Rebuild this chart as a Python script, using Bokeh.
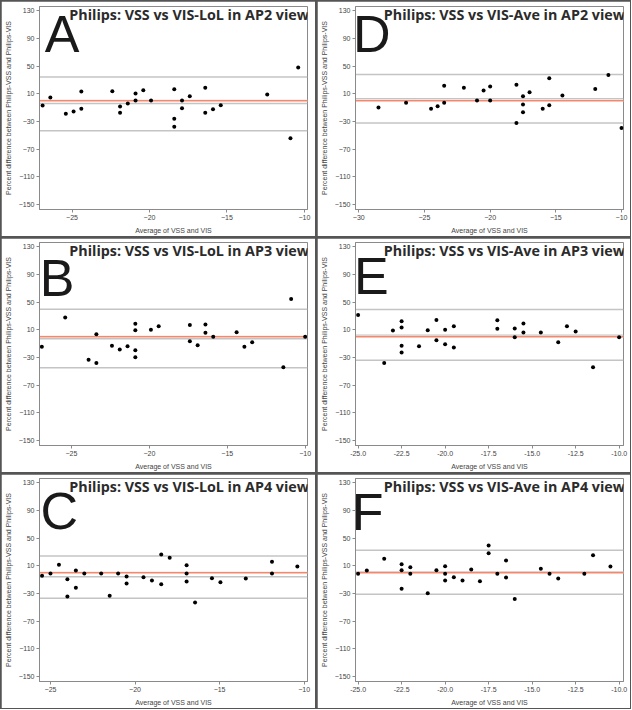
from bokeh.plotting import figure
from bokeh.layouts import gridplot
from bokeh.models import Span, Label, FixedTicker, PrintfTickFormatter, Range1d
from bokeh.embed import file_html
from bokeh.resources import INLINE

# ---------------- data ----------------
y_ticks = [130, 90, 50, 10, -30, -70, -110, -150]
x_ticks_lol = [-25, -20, -15, -10]
x_ticks_d = [-30, -25, -20, -15, -10]
x_ticks_ave = [-25.0, -22.5, -20.0, -17.5, -15.0, -12.5, -10.0]

titles = {
    "A": "Philips: VSS vs VIS-LoL in AP2 view",
    "D": "Philips: VSS vs VIS-Ave in AP2 view",
    "B": "Philips: VSS vs VIS-LoL in AP3 view",
    "E": "Philips: VSS vs VIS-Ave in AP3 view",
    "C": "Philips: VSS vs VIS-LoL in AP4 view",
    "F": "Philips: VSS vs VIS-Ave in AP4 view",
}

A_x = [-26.9, -26.4, -25.4, -24.9, -24.4, -24.4, -22.4, -21.9, -21.9, -21.4, -20.9, -20.9, -20.4, -19.9,
       -18.4, -18.4, -18.4, -17.9, -17.9, -17.4, -16.4, -16.4, -15.9, -15.4, -12.4, -10.9, -10.4]
A_y = [-6.9, 4.6, -18.9, -15.5, 13.3, -11.7, 13.8, -8.3, -17.5, -4.0, 10.4, 0.3, 15.2, 0.3,
       16.6, -26.1, -37.6, 0.3, -10.7, 6.6, 18.6, -17.5, -12.2, -6.4, 8.9, -54.0, 47.9]

D_x = [-28.5, -26.4, -24.5, -24.0, -23.5, -23.5, -22.0, -21.0, -20.5, -20.0, -20.0, -18.0, -18.0,
       -17.5, -17.5, -17.5, -17.0, -16.0, -15.5, -15.5, -14.5, -12.0, -11.0, -10.0]
D_y = [-9.8, -3.0, -11.7, -7.8, 21.5, -3.0, 18.6, 0.3, 14.7, 20.5, 0.3, 22.9, -32.3,
       6.6, -5.4, -16.5, 12.3, -11.7, 32.5, -6.4, 7.5, 17.1, 37.3, -39.5]

B_x = [-26.9, -25.4, -23.9, -23.4, -23.4, -22.4, -21.9, -21.4, -20.9, -20.9, -20.9, -20.9, -19.9,
       -19.4, -17.4, -17.4, -16.9, -16.4, -16.4, -15.9, -14.4, -13.9, -13.4, -11.4, -10.9, -10.0]
B_y = [-14.6, 27.7, -33.3, 3.7, -38.1, -13.1, -18.4, -13.6, 18.6, 9.4, -19.4, -29.5, 9.9,
       15.2, 17.1, -6.4, -12.2, 17.6, 5.6, -0.2, 6.6, -14.6, -7.8, -43.9, 54.6, -0.2]

E_x = [-25.0, -23.5, -23.0, -22.5, -22.5, -22.5, -22.5, -21.5, -21.0, -20.5, -20.5, -20.0, -20.0,
       -19.5, -19.5, -17.0, -17.0, -16.0, -16.0, -15.5, -15.5, -14.5, -13.5, -13.0, -12.5, -11.5, -10.0]
E_y = [31.5, -38.1, 8.9, 22.4, 13.3, -13.1, -22.7, -13.6, 9.4, 24.3, -5.0, 9.9, -10.7,
       15.2, -15.5, 23.9, 11.4, 11.8, -0.6, 19.1, 6.1, 6.1, -7.8, 15.2, 7.5, -43.9, -0.6]

C_x = [-25.5, -25.0, -24.5, -24.0, -24.0, -23.5, -23.5, -23.0, -22.0, -21.5, -21.0, -20.5, -20.5,
       -19.5, -19.0, -18.45, -18.45, -17.95, -16.95, -16.95, -16.95, -16.45, -15.45, -14.95,
       -13.45, -11.9, -11.9, -10.4]
C_y = [-4.5, -1.1, 11.4, -9.3, -34.3, 3.2, -21.8, -1.1, -1.1, -33.3, -1.1, -5.4, -15.5,
       -6.4, -11.2, 26.3, -16.5, 21.5, 10.9, -1.1, -12.6, -42.9, -7.8, -13.6,
       -8.3, 15.7, -1.1, 8.9]

F_x = [-25.0, -24.5, -23.5, -22.5, -22.5, -22.5, -22.0, -22.0, -21.0, -20.5, -20.0, -20.0, -20.0,
       -19.5, -19.0, -18.5, -18.0, -17.5, -17.5, -17.0, -16.5, -16.5, -16.0, -14.5, -14.0,
       -13.5, -12.0, -11.5, -10.5]
F_y = [-1.6, 3.2, 20.0, 12.3, 3.7, -23.2, 8.0, -1.6, -29.5, 3.7, 9.4, -1.6, -11.2,
       -6.4, -11.2, 4.6, -12.2, 39.2, 28.2, -1.6, 17.6, -6.9, -38.1, 5.6, -1.6,
       -8.3, -1.6, 25.3, 8.9]

# reference lines: zero (red), mean bias and limits of agreement (grey)
zero_line = 0
A_lines = [34.4, -4.0, -43.4]
D_lines = [37.8, 2.7, -32.3]
B_lines = [39.7, -3.0, -44.8]
E_lines = [39.2, 2.2, -33.8]
C_lines = [24.3, -5.9, -36.7]
F_lines = [32.5, 1.3, -30.9]

x_label = "Average of VSS and VIS"
y_label = "Percent difference between Philips-VSS and Philips-VIS"

# ---------------- styling ----------------
Y_RANGE = (-157, 136)
AXIS_COLOR = "#8a8a8a"
TICK_TEXT = "#444444"


def make_panel(letter, xs, ys, lines, x_range, x_ticks, fmt, w, h, top, right,
               letter_dx, letter_dy, title_dy):
    p = figure(width=w, height=h, output_backend="svg", toolbar_location=None,
               x_range=Range1d(*x_range), y_range=Range1d(*Y_RANGE),
               min_border_left=37, min_border_right=right, min_border_top=top,
               min_border_bottom=27)
    p.background_fill_color = "white"
    p.border_fill_color = "white"
    p.outline_line_color = AXIS_COLOR
    p.outline_line_width = 1
    p.xgrid.visible = False
    p.ygrid.visible = False

    for ax in (p.xaxis[0], p.yaxis[0]):
        ax.axis_line_color = AXIS_COLOR
        ax.major_tick_line_color = AXIS_COLOR
        ax.minor_tick_line_color = None
        ax.major_tick_out = 3
        ax.major_tick_in = 0
        ax.major_label_text_font = "Liberation Sans"
        ax.major_label_text_font_size = "7px"
        ax.major_label_text_color = TICK_TEXT
        ax.major_label_standoff = 2
        ax.axis_label_text_font = "Liberation Sans"
        ax.axis_label_text_font_size = "7px"
        ax.axis_label_text_font_style = "normal"
        ax.axis_label_text_color = TICK_TEXT
        ax.axis_label_standoff = 4

    p.xaxis.ticker = FixedTicker(ticks=x_ticks)
    p.yaxis.ticker = FixedTicker(ticks=y_ticks)
    if fmt:
        p.xaxis.formatter = PrintfTickFormatter(format=fmt)
    p.xaxis.axis_label = x_label
    p.yaxis.axis_label = y_label

    for loc in lines:
        p.add_layout(Span(location=loc, dimension="width", line_color="#c4c4c4",
                          line_width=1.5, level="underlay"))
    p.add_layout(Span(location=zero_line, dimension="width", line_color="#fde2da",
                      line_width=2.6, level="underlay"))
    p.add_layout(Span(location=zero_line, dimension="width", line_color="#f06a48",
                      line_width=1.2, level="underlay"))

    p.scatter(xs, ys, size=4, color="black", line_width=0)

    p.add_layout(Label(x=x_range[0], y=Y_RANGE[1], text=letter, text_font="Liberation Sans",
                       text_font_size="52px", text_color="#1a1a1a",
                       text_baseline="alphabetic", text_align="left",
                       x_offset=letter_dx, y_offset=letter_dy))
    p.add_layout(Label(x=x_range[1], y=Y_RANGE[1], text=titles[letter],
                       text_font="Open Sans", text_font_style="bold",
                       text_font_size="14.3px", text_color="#2b2b2b",
                       text_baseline="alphabetic", text_align="right",
                       x_offset=1.5, y_offset=title_dy))
    return p


pA = make_panel("A", A_x, A_y, A_lines, (-27.1, -9.8), x_ticks_lol, None,
                314, 235, 5, 8, 5.3, -27, -8)
pD = make_panel("D", D_x, D_y, D_lines, (-30.25, -9.85), x_ticks_d, None,
                313, 235, 5, 7, -2.5, -27, -8)
pB = make_panel("B", B_x, B_y, B_lines, (-27.05, -9.85), x_ticks_lol, None,
                314, 234, 4, 8, 0.3, -35.1, -7.5)
pE = make_panel("E", E_x, E_y, E_lines, (-25.15, -9.75), x_ticks_ave, "%.1f",
                313, 234, 4, 7, -1.4, -33.4, -7.5)
pC = make_panel("C", C_x, C_y, C_lines, (-25.65, -9.8), x_ticks_lol, None,
                314, 234, 4, 8, 1.1, -32.9, -7.5)
pF = make_panel("F", F_x, F_y, F_lines, (-25.15, -9.75), x_ticks_ave, "%.1f",
                313, 234, 4, 7, -3.8, -33.4, -7.5)

g = gridplot([[pA, pD], [pB, pE], [pC, pF]], toolbar_location=None)
g.spacing = 2
g.styles = {"background-color": "#555555", "padding": "1px"}

open("out.html", "w").write(file_html(g, INLINE))
